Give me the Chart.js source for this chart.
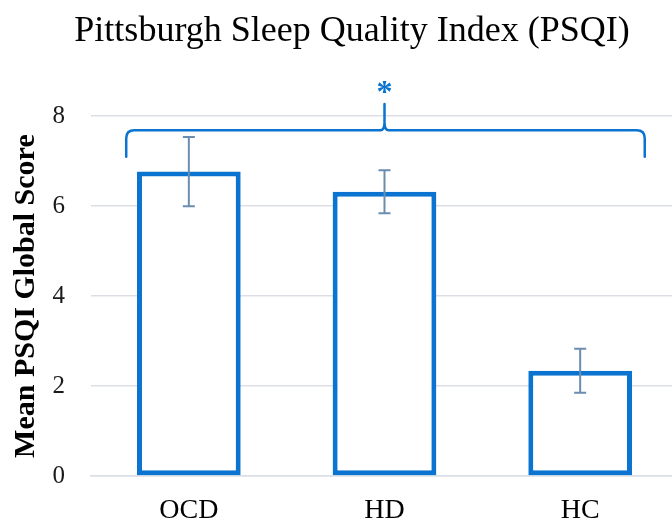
<!DOCTYPE html>
<html>
<head>
<meta charset="utf-8">
<script src="https://cdn.jsdelivr.net/npm/chart.js@4/dist/chart.umd.min.js"></script>
<style>
  html, body { margin: 0; padding: 0; background: #ffffff; overflow: hidden; }
  #wrap { width: 678px; height: 524px; position: relative; }
</style>
</head>
<body>
<div id="wrap"><canvas id="c"></canvas></div>
<script>
// ---- data ----
const categories = ['OCD', 'HD', 'HC'];
const meanScores = [6.77, 6.32, 2.34];
const errorValues = [0.77, 0.48, 0.49];
const yTickValues = [0, 2, 4, 6, 8];
const chartTitle = 'Pittsburgh Sleep Quality Index (PSQI)';
const yAxisTitle = 'Mean PSQI Global Score';
const significanceMark = '*';

// ---- annotation placement (data units) & styles ----
const braceSpec = { level: 7.69, ends: 7.1, peak: 8.27, mark: 8.49, leftExt: 0.32, rightExt: 0.33 };
const SERIF = "'Liberation Serif', 'Times New Roman', serif";
const BLUE = '#0a74d0';
const ERR_COLOR = '#6a8db0';

const errorBarPlugin = {
  id: 'errorBars',
  afterDatasetsDraw(chart) {
    const ctx = chart.ctx;
    const ys = chart.scales.y;
    const meta = chart.getDatasetMeta(0);
    ctx.save();
    ctx.strokeStyle = ERR_COLOR;
    ctx.lineWidth = 2;
    meta.data.forEach((bar, i) => {
      const v = meanScores[i], e = errorValues[i];
      const top = ys.getPixelForValue(v + e);
      const bot = ys.getPixelForValue(v - e);
      const x = bar.x, cap = 6;
      ctx.beginPath();
      ctx.moveTo(x, top); ctx.lineTo(x, bot);
      ctx.moveTo(x - cap, top); ctx.lineTo(x + cap, top);
      ctx.moveTo(x - cap, bot); ctx.lineTo(x + cap, bot);
      ctx.stroke();
    });
    ctx.restore();
  }
};

const bracePlugin = {
  id: 'brace',
  afterDatasetsDraw(chart) {
    const ctx = chart.ctx;
    const xs = chart.scales.x, ys = chart.scales.y;
    const c0 = xs.getPixelForValue(0);
    const cw = xs.getPixelForValue(1) - c0;
    const x0 = c0 - braceSpec.leftExt * cw;
    const x1 = xs.getPixelForValue(categories.length - 1) + braceSpec.rightExt * cw;
    const xm = xs.getPixelForValue((categories.length - 1) / 2);
    const yb = ys.getPixelForValue(braceSpec.level);
    const ye = ys.getPixelForValue(braceSpec.ends);
    const yp = ys.getPixelForValue(braceSpec.peak);
    const r = 8, rc = 4;
    ctx.save();
    ctx.strokeStyle = BLUE;
    ctx.lineWidth = 2.5;
    ctx.lineJoin = 'round';
    ctx.lineCap = 'round';
    ctx.beginPath();
    ctx.moveTo(x0, ye);
    ctx.lineTo(x0, yb + r);
    ctx.quadraticCurveTo(x0, yb, x0 + r, yb);
    ctx.lineTo(xm - rc, yb);
    ctx.quadraticCurveTo(xm, yb, xm, yb - 2 * rc);
    ctx.lineTo(xm, yp);
    ctx.lineTo(xm, yb - 2 * rc);
    ctx.quadraticCurveTo(xm, yb, xm + rc, yb);
    ctx.lineTo(x1 - r, yb);
    ctx.quadraticCurveTo(x1, yb, x1, yb + r);
    ctx.lineTo(x1, ye);
    ctx.stroke();
    ctx.fillStyle = BLUE;
    ctx.font = 'bold 32px ' + SERIF;
    ctx.textAlign = 'center';
    ctx.textBaseline = 'middle';
    ctx.fillText(significanceMark, xm, ys.getPixelForValue(braceSpec.mark));
    ctx.restore();
  }
};

new Chart(document.getElementById('c'), {
  type: 'bar',
  data: {
    labels: categories,
    datasets: [{
      data: meanScores,
      backgroundColor: '#ffffff',
      borderColor: BLUE,
      borderWidth: 5,
      borderSkipped: false,
      barPercentage: 0.53,
      categoryPercentage: 1.0
    }]
  },
  options: {
    responsive: true,
    maintainAspectRatio: false,
    animation: false,
    devicePixelRatio: 1,
    layout: { padding: { left: 26, right: 0, top: 0, bottom: 0 } },
    plugins: {
      legend: { display: false },
      tooltip: { enabled: false },
      title: {
        display: true,
        text: chartTitle,
        color: '#000000',
        font: { family: SERIF, size: 36, weight: 'normal', lineHeight: 1.2 },
        padding: { top: 10, bottom: 63 }
      }
    },
    scales: {
      x: {
        afterFit(scale) { scale.height = 48; },
        grid: { display: false, drawTicks: false },
        border: { display: true, color: '#d9dde5', width: 1.5 },
        ticks: {
          color: '#000000',
          padding: 21,
          font: { family: SERIF, size: 28, lineHeight: 1 }
        }
      },
      y: {
        min: 0,
        max: 8,
        afterFit(scale) { scale.width = 65; },
        afterBuildTicks(axis) { axis.ticks = yTickValues.map(v => ({ value: v })); },
        grid: { color: '#dcdfe6', lineWidth: 1.5, drawTicks: false },
        border: { display: false },
        ticks: {
          color: '#1a1a1a',
          padding: 26,
          font: { family: SERIF, size: 25, lineHeight: 1.2 }
        },
        title: {
          display: true,
          text: yAxisTitle,
          color: '#000000',
          font: { family: SERIF, size: 30, weight: 'bold', lineHeight: 1 },
          padding: { top: -15, bottom: 11.5 }
        }
      }
    }
  },
  plugins: [errorBarPlugin, bracePlugin]
});
</script>
</body>
</html>
